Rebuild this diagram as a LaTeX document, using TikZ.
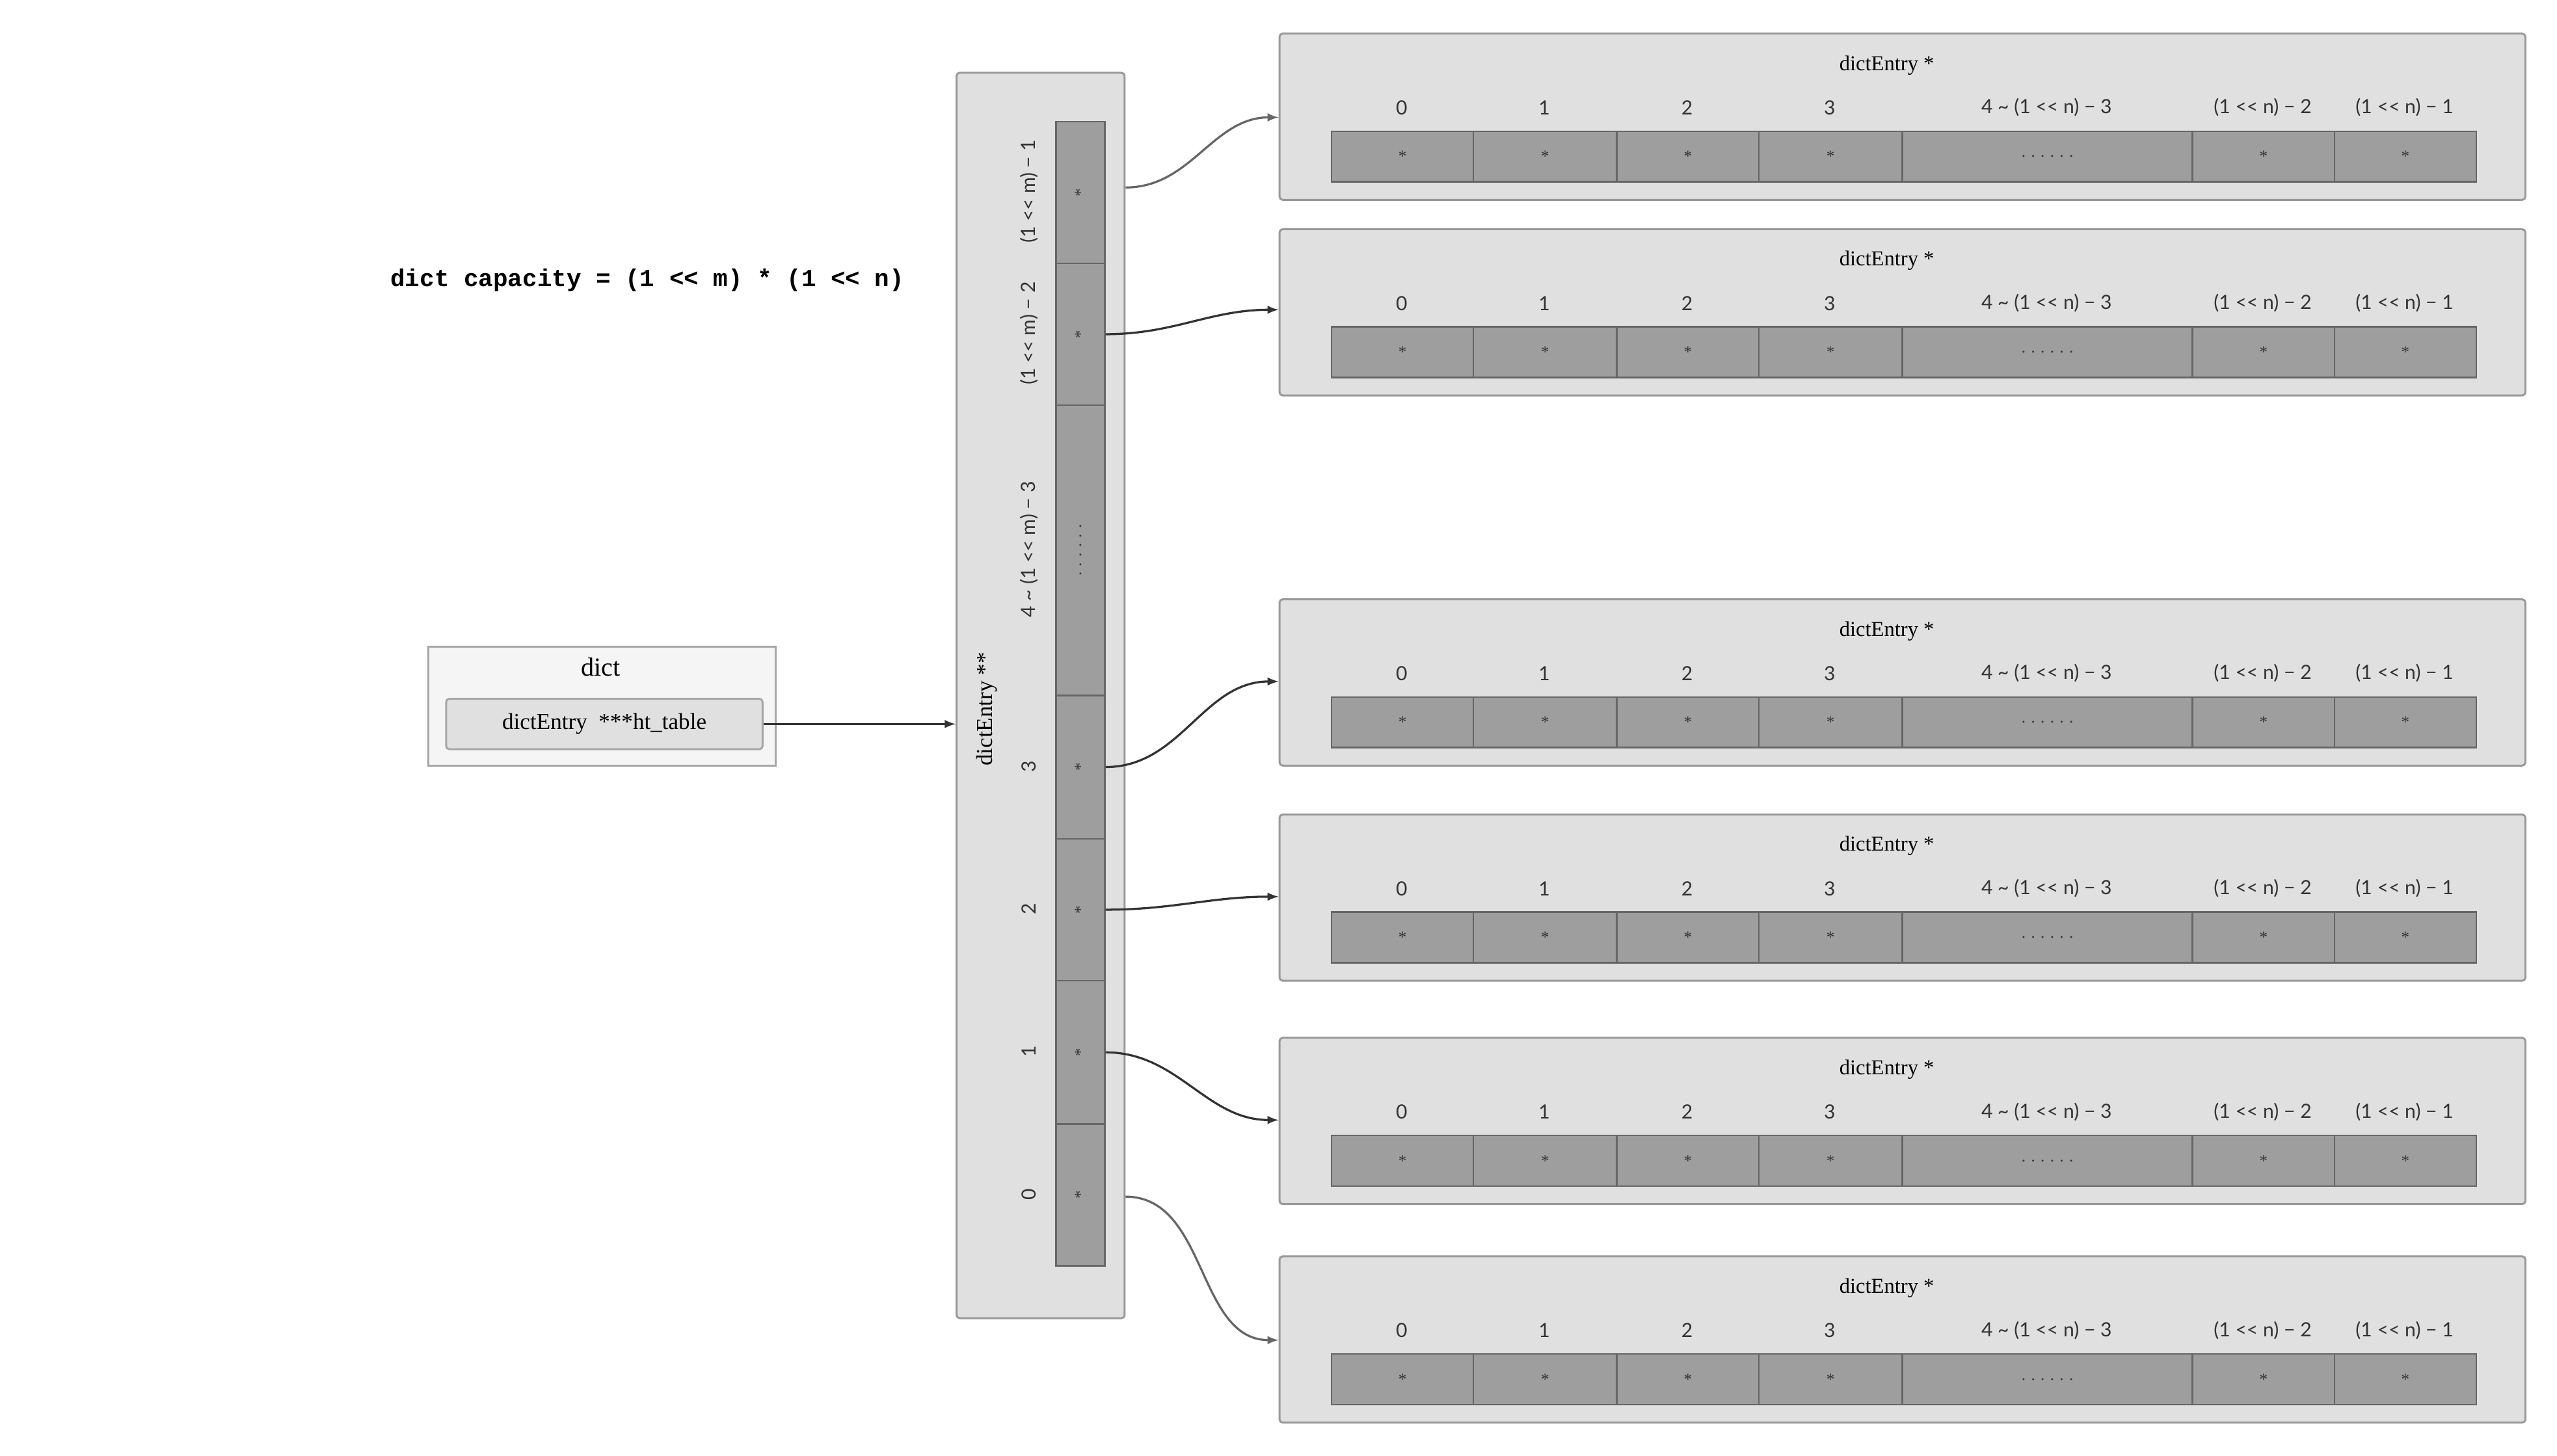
\documentclass[tikz,border=0pt]{standalone}
\usepackage{fontspec}
\setmainfont{Liberation Serif}
\newfontfamily\lato{Lato}
\newfontfamily\monob{Liberation Mono}
\begin{document}
\begin{tikzpicture}[x=1pt,y=-1pt,
  outerbox/.style={draw=black!40,fill=black!12,line width=1.2pt,rounded corners=2pt},
  cellbox/.style={draw=black!60,fill=black!38,line width=1pt},
  idx/.style={font=\lato\fontsize{12}{12}\selectfont,text=black!80},
  star/.style={font=\fontsize{10}{10}\selectfont,text=black!80},
  conn/.style={-latex,line width=1.3pt,draw=black!80},
  connl/.style={-latex,line width=1.3pt,draw=black!60}]
\useasboundingbox (0,0) rectangle (1568,893);
\node[font=\monob\bfseries\fontsize{15}{15}\selectfont] (formula) at (397,172) {dict capacity = (1 << m) * (1 << n)};
% dict
\node[draw=black!35,fill=black!4,line width=1.2pt,minimum width=213pt,minimum height=73pt,anchor=north west,inner sep=0] (dict) at (262,396) {};
\node[font=\fontsize{16}{16}\selectfont] (dictt) at (368.5,409) {dict};
\node[draw=black!35,fill=black!12,line width=1.2pt,rounded corners=2pt,minimum width=194pt,minimum height=31pt,anchor=north west,inner sep=0,font=\fontsize{14}{14}\selectfont] (ht) at (273,428) {dictEntry\ \ ***ht\_table};
% column
\node[outerbox,minimum width=103pt,minimum height=764pt,anchor=north west,inner sep=0] (col) at (586,44) {};
\node[rotate=90,font=\fontsize{14}{14}\selectfont] (colt) at (605,435) {dictEntry **};
\draw[conn] (ht.east) -- (col.west |- ht.east);
\foreach \a/\b/\l/\s/\n in {74/161/{(1 << m) − 1}/*/c7,161/248/{(1 << m) − 2}/*/c6,248/426/{4 \textasciitilde\ (1 << m) − 3}/{. . . . . .}/c5,426/514/3/*/c3,514/601/2/*/c2,601/689/1/*/c1,689/776/0/*/c0}{
  \node[cellbox,minimum width=30pt,minimum height={\b-\a},anchor=north west,inner sep=0] (\n) at (647,\a) {};
  \node[rotate=90,star] at (\n.center) {\s};
  \node[rotate=90,idx] at (631,{(\a+\b)/2}) {\l};
}
% right boxes
\foreach \t/\r in {20/r1,140/r2,367/r3,499/r4,636/r5,770/r6}{
  \node[outerbox,minimum width=764pt,minimum height=102pt,anchor=north west,inner sep=0] (\r) at (784,\t) {};
  \node[font=\fontsize{13}{13}\selectfont] at (1157,\t+20) {dictEntry *};
  \foreach \a/\b/\l/\s in {816/903/0/*,903/991/1/*,991/1078/2/*,1078/1166/3/*,1166/1344/{4 \textasciitilde\ (1 << n) − 3}/{. . . . . .},1344/1431/{(1 << n) − 2}/*,1431/1518/{(1 << n) − 1}/*}{
    \node[cellbox,minimum width={\b-\a},minimum height=31pt,anchor=north west,inner sep=0] (\r c\a) at (\a,\t+60) {};
    \node[star] at (\r c\a.center) {\s};
    \node[idx] at ({(\a+\b)/2},\t+46) {\l};
  }
}
\draw[connl] (col.east |- 0,115) to[out=0,in=180] (r1.west |- 0,72);
\draw[conn] (c6.east) to[out=0,in=180] (r2.west |- 0,190);
\draw[conn] (c3.east) to[out=0,in=180] (r3.west |- 0,418);
\draw[conn] (c2.east) to[out=0,in=180] (r4.west |- 0,550);
\draw[conn] (c1.east) to[out=0,in=180] (r5.west |- 0,687);
\draw[connl] (col.east |- 0,734) to[out=0,in=180] (r6.west |- 0,822);
\end{tikzpicture}
\end{document}
